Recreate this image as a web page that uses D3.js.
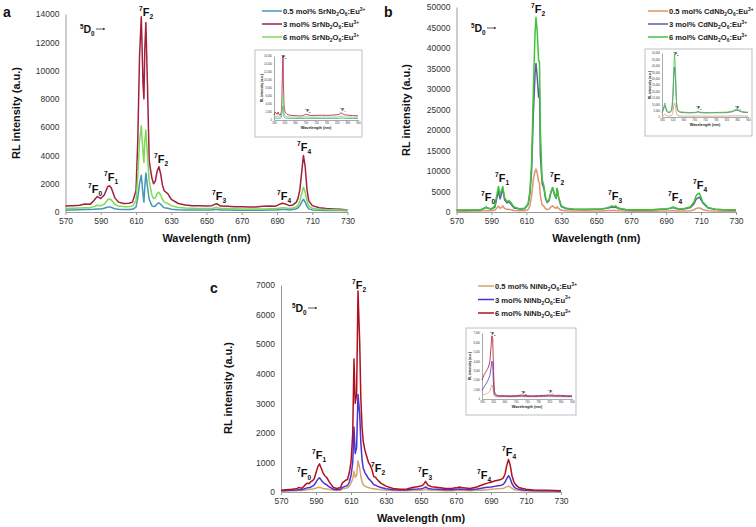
<!DOCTYPE html>
<html><head><meta charset="utf-8">
<script src="https://cdn.jsdelivr.net/npm/d3@7"></script>
<style>body{margin:0;background:#fff}svg{display:block}text{font-family:"Liberation Sans",Arial,sans-serif}</style>
</head><body><svg id="chart" width="756" height="527"></svg>
<script>
// ---------- shared tick labels ----------
const xTicks = [570,590,610,630,650,670,690,710,730];
const yTicksA = [0,2000,4000,6000,8000,10000,12000,14000];
const yTicksB = [0,5000,10000,15000,20000,25000,30000,35000,40000,45000,50000];
const yTicksC = [0,1000,2000,3000,4000,5000,6000,7000];
const insetXTicks = [580,620,660,700,740,780,820,860,900];

// ---------- panel a : SrNb2O6:Eu ----------
const wlA = [570,574,578,581,584,586,588,590,592,594,595,596,598,600,603,606,608,610,611,612,613,614,614.5,615,615.6,616.5,617.5,619,620,621,622,623,624,625,626,628,630,634,638,642,646,650,653,655,656,658,662,666,670,674,678,682,686,689,691,693,695,697,699,701,702,703,704,705,706,707,708,710,714,718,722,726,730];
const srLow = [150,150,160,170,170,190,220,220,260,350,360,330,230,190,170,170,190,350,1000,2000,2600,1200,700,1800,2750,1800,900,450,380,420,580,650,550,400,300,270,200,160,150,150,140,140,140,170,180,140,140,130,130,120,120,130,140,140,160,180,170,150,170,230,300,450,700,900,700,400,220,150,120,110,100,100,90];
const srMid = [420,450,480,560,540,800,1100,950,1200,1800,1850,1700,1000,700,600,620,700,1500,5000,11000,13800,9000,8000,11500,13400,9000,3600,2400,2000,2200,2900,3200,2700,1900,1500,1300,900,600,500,450,450,420,450,560,580,420,400,380,370,350,360,400,430,400,520,620,560,450,500,700,1000,1600,2800,4000,3200,1600,800,450,300,250,220,200,150];
const srHigh = [250,260,280,300,300,380,480,450,550,880,920,850,550,420,380,380,420,800,2500,5000,6100,4200,3500,5000,5800,4000,2200,1200,950,1000,1300,1400,1200,900,700,600,450,320,280,260,250,240,250,300,310,250,240,230,220,210,210,220,230,230,270,300,280,250,280,380,500,800,1300,1750,1400,800,420,260,200,170,160,150,130];

// ---------- panel b : CdNb2O6:Eu ----------
const wlB = [570,575,580,584,586,587,588,590,592,593,594,595,596,596.5,597.5,599,600,601,603,606,609,611,612,613,614,615,615.5,616.2,617,617.5,618,619,620,621,622,623,624,625,626,627,627.6,628.5,630,633,637,641,645,649,653,656,658,659,660,661,663,667,671,675,679,683,687,690,692,694,696,698,701,704,706,707,708,709,710,711,712,714,718,722,726,730];
const cdLow = [200,200,220,250,300,350,300,300,500,900,1400,900,1200,1500,900,600,650,550,350,280,300,600,1500,4000,8000,10000,10500,9500,7500,7000,4000,1800,1400,800,600,700,1200,1500,1100,900,1300,800,400,280,250,230,230,240,250,300,350,380,350,380,280,220,200,200,200,210,240,260,280,330,260,230,260,320,550,800,950,1000,850,600,500,320,230,210,200,180];
const cdMid = [400,420,450,550,900,1200,900,700,1200,3200,5000,3200,4800,5700,3000,2200,2500,2000,1000,700,800,1800,4500,10000,24000,34000,36200,33000,28000,30000,14000,7000,5800,3200,2300,2800,4700,5900,4300,3300,5700,3300,1300,800,650,600,600,650,700,900,1100,1200,1100,1200,800,550,500,500,500,550,650,750,850,1100,800,650,800,1100,2000,3000,3400,3600,3000,2200,1800,1000,650,550,500,450];
const cdHigh = [450,470,500,600,900,1200,900,800,1500,4000,6200,4200,5500,6200,3500,2500,2800,2400,1200,800,900,2000,5000,12000,30000,44000,47500,44000,37000,36500,20000,8000,6500,3500,2500,3000,4800,6000,4500,3500,5800,3500,1500,900,700,650,650,700,750,1000,1300,1500,1300,1500,900,600,550,550,550,600,700,800,900,1200,900,700,900,1300,2500,3800,4400,4600,3600,2400,2000,1100,700,600,550,500];

// ---------- panel c : NiNb2O6:Eu ----------
const wlC = [570,573,576,579,580,582,584,585,586,587,588,589,590,591,592,593,594,595,596,597,598,600,602,604,605,606,607,608,609,610,611,611.7,612.4,613.2,614,615,615.6,616.3,617,618,619,620,621,622,623,624,625,627,630,634,638,642,645,648,650,651,652,652.6,653.3,654,656,660,664,668,670,672,674,678,682,684,686,688,690,692,694,696,697,698,699,700,701,702,703,704,706,708,710,714,718,722,726,730];
const niLow = [30,35,40,45,50,50,70,80,80,90,100,110,130,150,160,140,120,110,100,90,80,60,55,60,100,120,130,140,200,300,450,700,500,550,1050,800,550,350,250,200,170,150,130,120,110,100,90,75,60,50,45,45,50,55,60,65,80,90,80,65,55,50,45,45,50,55,50,45,55,60,70,80,90,100,110,115,120,150,180,200,170,120,90,70,55,45,40,35,30,30,30,25];
const niMid = [40,50,60,70,80,80,120,140,140,170,200,240,330,430,480,400,330,280,250,200,160,90,80,90,150,180,200,220,330,550,1000,2200,1300,1500,3300,2600,1700,1100,800,650,550,450,400,330,250,230,200,150,110,80,70,70,90,100,110,120,150,170,150,120,100,90,80,80,90,100,90,80,100,120,140,160,170,190,210,230,260,330,450,550,450,280,180,130,90,70,60,50,45,40,40,35];
const niHigh = [60,80,90,110,150,130,250,300,280,350,380,450,650,850,950,800,650,550,500,400,300,150,120,150,300,350,400,420,650,1000,2000,4500,3000,3300,6800,5000,3200,2200,1700,1400,1200,1000,900,750,520,500,420,300,200,120,90,100,150,180,200,230,300,360,300,230,180,150,120,130,140,170,140,120,170,220,260,300,330,370,400,430,480,600,900,1100,900,550,350,250,150,120,90,70,60,55,50,40];

// ---------- insets (full spectra) ----------
const wlIa = [580,584,588,592,596,600,604,608,610,612,614,615,616,618,620,624,630,640,660,680,690,700,710,720,740,760,780,800,820,830,835,840,845,850,860,880,900];
const insA_low = [400,500,450,400,500,400,400,700,1500,3000,3500,3200,2000,900,600,500,450,400,400,380,390,420,400,390,390,400,390,400,410,450,500,470,430,410,400,390,380];
const insA_mid = [1200,2000,1800,1400,2000,1300,1200,2000,5000,12000,16000,14000,9000,4000,2500,1800,1400,1200,1100,1000,1100,1400,1300,1100,1150,1200,1150,1200,1300,1500,1800,1600,1400,1300,1200,1100,1050];
const insA_high = [700,1000,900,800,1000,800,750,1200,2500,5500,6500,6000,4000,1800,1200,900,800,750,700,650,680,800,750,700,700,720,700,720,750,850,950,900,800,750,720,700,680];
const wlIb = [580,584,588,591,594,598,604,610,616,620,624,627,630,634,638,644,650,660,680,700,710,714,718,730,760,790,820,840,850,858,866,875,885,900];
const insB_low = [800,1200,1800,2200,1600,1000,800,800,1200,3000,9000,11000,8500,2500,1200,900,800,750,700,700,750,850,750,700,700,700,720,800,900,950,900,800,750,720];
const insB_mid = [3500,5000,7500,9000,6500,4200,3500,3500,5000,12000,32000,39000,30000,10000,5000,4000,3600,3400,3200,3300,3600,4200,3600,3200,3200,3300,3400,4000,4800,5200,4800,4000,3600,3400];
const insB_high = [4000,6000,9000,11000,8000,5000,4000,4000,6000,15000,40000,49000,38000,12000,6000,4500,4000,3800,3500,3600,4000,4800,4000,3500,3500,3600,3800,4500,5500,6000,5500,4500,4000,3800];
const wlIc = [580,584,588,592,596,600,604,608,612,615,618,621,624,628,634,640,660,680,700,720,740,760,780,800,820,840,850,860,880,900];
const insC_low = [300,400,500,500,600,600,700,800,1200,1500,1400,600,300,250,240,230,230,220,230,250,230,220,230,240,260,240,240,230,220,210];
const insC_mid = [900,1100,1300,1500,1700,1900,2200,2500,3300,4000,3800,1500,500,350,300,300,290,280,290,320,290,280,290,300,330,300,300,290,280,270];
const insC_high = [2000,2300,2600,2800,3000,3200,3500,4000,5500,6700,6500,3000,800,500,400,350,350,330,350,420,350,330,350,380,430,380,400,380,350,330];

// ---------- series names ----------
const namesA = ["0.5 mol% SrNb","3 mol% SrNb","6 mol% SrNb"];
const namesB = ["0.5 mol% CdNb","3 mol% CdNb","6 mol% CdNb"];
const namesC = ["0.5 mol% NiNb","3 mol% NiNb","6 mol% NiNb"];

const svg = d3.select("#chart");

function rich(g, x, y, parts, size, opts) {
  opts = opts || {};
  const t = g.append("text").attr("x", x).attr("y", y).attr("font-size", size)
    .attr("font-weight", "bold").attr("fill", opts.fill || "#111")
    .attr("text-anchor", opts.anchor || "start");
  let prev = 0;
  parts.forEach(p => {
    const s = p.s === "sup" ? -0.42 * size : p.s === "sub" ? 0.28 * size : 0;
    const ts = t.append("tspan").text(p.t).attr("dy", s - prev);
    if (p.s) ts.attr("font-size", size * (opts.scale || 0.6));
    prev = s;
  });
  return t;
}
function term(n, sub) { return [{t: String(n), s: "sup"}, {t: "F"}, {t: String(sub), s: "sub"}]; }
function compound(name) { return [{t: name}, {t: "2", s: "sub"}, {t: "O"}, {t: "6", s: "sub"}, {t: ":Eu"}, {t: "3+", s: "sup"}]; }

function styleAxis(g, fs, col) {
  g.selectAll(".domain").attr("stroke", col || "#9a9a9a");
  g.selectAll(".tick line").attr("stroke", col || "#9a9a9a");
  g.selectAll(".tick text").attr("fill", "#333").attr("font-size", fs)
    .attr("font-family", '"Liberation Sans",Arial,sans-serif');
}

function drawInset(P) {
  const I = P.inset;
  const g = svg.append("g");
  g.append("rect").attr("x", I.bx).attr("y", I.by).attr("width", I.bw).attr("height", I.bh)
    .attr("fill", "#fff").attr("stroke", "#b5c1c9").attr("stroke-width", 1);
  const x = d3.scaleLinear().domain([580, 900]).range([I.x0, I.x1]);
  const y = d3.scaleLinear().domain([0, I.ymax]).range([I.y0, I.y1]);
  const gx = g.append("g").attr("transform", `translate(0,${I.y0})`)
    .call(d3.axisBottom(x).tickValues(insetXTicks).tickSize(1).tickPadding(1).tickSizeOuter(0));
  styleAxis(gx, 2.6, "#aaa");
  const gy = g.append("g").attr("transform", `translate(${I.x0},0)`)
    .call(d3.axisLeft(y).tickValues(I.yTicks).tickSize(0).tickPadding(2).tickSizeOuter(0));
  styleAxis(gy, 2.6, "#aaa");
  I.series.forEach((vals, k) => {
    g.append("path").datum(vals)
      .attr("d", d3.line().x((d, i) => x(I.wl[i])).y(d => y(d)))
      .attr("fill", "none").attr("stroke", P.colors[k]).attr("stroke-width", 0.8);
  });
  g.append("text").attr("x", (I.x0 + I.x1) / 2).attr("y", I.y0 + 9).attr("text-anchor", "middle")
    .attr("font-size", 3.8).attr("font-weight", "bold").attr("fill", "#222").text("Wavelength (nm)");
  g.append("text").attr("transform", `translate(${I.x0 - 11},${(I.y0 + I.y1) / 2}) rotate(-90)`)
    .attr("text-anchor", "middle").attr("font-size", 3.4).attr("font-weight", "bold").attr("fill", "#222")
    .text("RL intensity (a.u.)");
  I.ann.forEach(a => rich(g, a[0], a[1], term(7, a[2]), 4.2));
}

function drawPanel(P) {
  const g = svg.append("g");
  const x = d3.scaleLinear().domain([570, 730]).range([P.x0, P.x1]);
  const y = d3.scaleLinear().domain([0, P.ymax]).range([P.y0, P.y1]);

  const gx = g.append("g").attr("transform", `translate(0,${P.y0})`)
    .call(d3.axisBottom(x).tickValues(xTicks).tickFormat(d3.format("d")).tickSize(3).tickPadding(3).tickSizeOuter(0));
  styleAxis(gx, 8.5);
  const gy = g.append("g").attr("transform", `translate(${P.x0},0)`)
    .call(d3.axisLeft(y).tickValues(P.yTicks).tickFormat(d3.format("d")).tickSize(0).tickPadding(6).tickSizeOuter(0));
  styleAxis(gy, 8.5);

  P.series.forEach((vals, k) => {
    g.append("path").datum(vals)
      .attr("d", d3.line().x((d, i) => x(P.wl[i])).y(d => y(d)))
      .attr("fill", "none").attr("stroke", P.colors[k]).attr("stroke-width", 1.5)
      .attr("stroke-linejoin", "round");
  });

  g.append("text").attr("x", (P.x0 + P.x1) / 2).attr("y", P.y0 + 30).attr("text-anchor", "middle")
    .attr("font-size", 11).attr("font-weight", "bold").attr("fill", "#111").text("Wavelength (nm)");
  g.append("text").attr("transform", `translate(${P.yt[0]},${P.yt[1]}) rotate(-90)`)
    .attr("text-anchor", "middle").attr("font-size", 11).attr("font-weight", "bold").attr("fill", "#111")
    .text("RL intensity (a.u.)");
  g.append("text").attr("x", P.lab[0]).attr("y", P.lab[1]).attr("font-size", 14).attr("font-weight", "bold")
    .attr("fill", "#111").text(P.label);

  // legend
  P.names.forEach((nm, k) => {
    const ly = P.leg[1] + k * P.leg[3];
    g.append("line").attr("x1", P.leg[0]).attr("x2", P.leg[0] + P.leg[2]).attr("y1", ly).attr("y2", ly)
      .attr("stroke", P.colors[k]).attr("stroke-width", 1.5);
    rich(g, P.leg[0] + P.leg[2] + 1, ly + 3, compound(nm), 7.6, {fill: "#222", scale: 0.65});
  });

  // transition annotations
  P.ann.forEach(a => rich(g, a[0], a[1], term(7, a[2]), 11));
  rich(g, P.d0[0], P.d0[1], [{t: "5", s: "sup"}, {t: "D"}, {t: "0", s: "sub"}], 10.5);
  g.append("line").attr("x1", P.d0[0] + 16).attr("x2", P.d0[0] + 25).attr("y1", P.d0[1] - 4).attr("y2", P.d0[1] - 4)
    .attr("stroke", "#333").attr("stroke-width", 0.8);
  g.append("path").attr("d", `M${P.d0[0] + 25},${P.d0[1] - 4}l-2,-1.2v2.4z`).attr("fill", "#333");

  drawInset(P);
}

const panels = [
  {label: "a", lab: [3, 17], x0: 65.5, x1: 347.5, y0: 212, y1: 14, ymax: 14000, yTicks: yTicksA,
   wl: wlA, series: [srLow, srMid, srHigh], colors: ["#4796b5", "#a3203f", "#7ed957"], names: namesA,
   yt: [20, 113], leg: [262, 11, 20, 13],
   ann: [[139, 16, 2], [88, 193, 0], [104, 181, 1], [154, 163, 2], [212, 200, 3], [277, 200, 4], [297, 151, 4]],
   d0: [80, 33],
   inset: {bx: 255, by: 50, bw: 107, bh: 87, x0: 274, x1: 358, y0: 120, y1: 56, ymax: 16000,
     yTicks: [0,2000,4000,6000,8000,10000,12000,14000,16000], wl: wlIa, series: [insA_low, insA_mid, insA_high],
     ann: [[281, 58, 2], [305, 112, 3], [340, 111, 4]]}},
  {label: "b", lab: [384, 17], x0: 456.5, x1: 736, y0: 212, y1: 7, ymax: 50000, yTicks: yTicksB,
   wl: wlB, series: [cdLow, cdMid, cdHigh], colors: ["#d9996a", "#5d5aa8", "#42c43a"], names: namesB,
   yt: [410, 110], leg: [648, 11, 20, 13],
   ann: [[531, 13, 2], [481, 201, 0], [495, 182, 1], [550, 182, 2], [608, 200, 3], [668, 201, 4], [693, 189, 4]],
   d0: [471, 32],
   inset: {bx: 645, by: 49, bw: 107, bh: 87, x0: 662, x1: 748, y0: 117, y1: 53, ymax: 50000,
     yTicks: [0,5000,10000,15000,20000,25000,30000,35000,40000,45000,50000], wl: wlIb, series: [insB_low, insB_mid, insB_high],
     ann: [[673, 55, 2], [696, 109, 3], [735, 109, 4]]}},
  {label: "c", lab: [210, 293], x0: 281, x1: 561, y0: 492, y1: 285, ymax: 7000, yTicks: yTicksC,
   wl: wlC, series: [niLow, niMid, niHigh], colors: ["#d6a56e", "#4a33d4", "#b0111f"], names: namesC,
   yt: [232, 388], leg: [478, 286, 16, 13.5],
   ann: [[352, 289, 2], [297, 477, 0], [312, 459, 1], [371, 472, 2], [418, 477, 3], [477, 479, 4], [502, 456, 4]],
   d0: [292, 312],
   inset: {bx: 466, by: 328, bw: 110, bh: 87, x0: 482, x1: 572, y0: 399, y1: 333, ymax: 7000,
     yTicks: [0,1000,2000,3000,4000,5000,6000,7000], wl: wlIc, series: [insC_low, insC_mid, insC_high],
     ann: [[490, 335, 2], [521, 394, 3], [548, 393, 4]]}}
];
panels.forEach(drawPanel);
</script></body></html>
